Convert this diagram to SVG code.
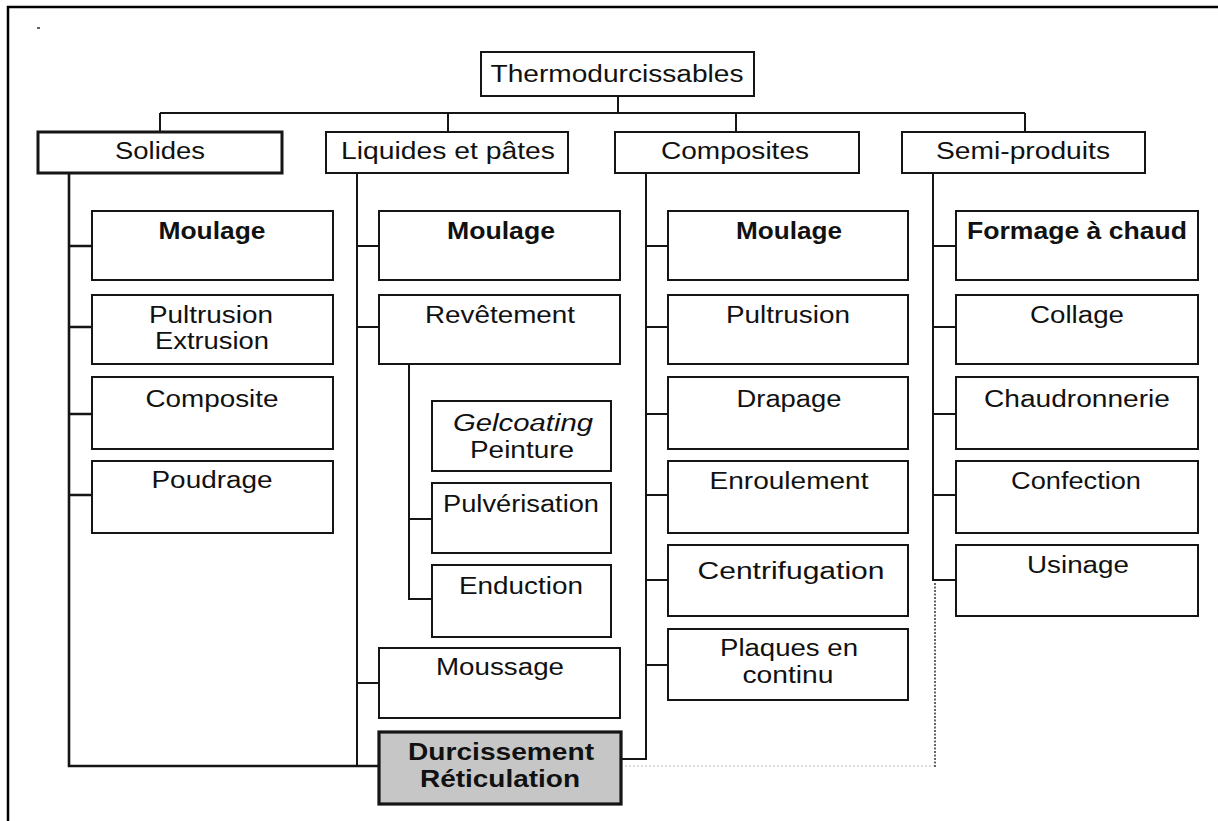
<svg xmlns="http://www.w3.org/2000/svg" width="1218" height="821" viewBox="0 0 1218 821">
<style>
.frame{fill:none;stroke:#000;stroke-width:2.5}
.box{fill:#fff;stroke:#151515;stroke-width:2}
.thick{stroke-width:3}
.grey{fill:#c6c6c6;stroke-width:3.2}
.c{fill:none;stroke:#151515;stroke-width:2}
.dot{fill:none;stroke:#555;stroke-width:1.8;stroke-dasharray:2 1.5}
.dotl{fill:none;stroke:#bbb;stroke-width:1.2;stroke-dasharray:2 2}
.t{font-family:"Liberation Sans",Arial,sans-serif;font-size:23px;text-anchor:middle;fill:#111}
.b{font-weight:bold}
.i{font-style:italic}
</style>
<rect class="frame" x="8" y="7" width="1240" height="840"/>
<rect x="37" y="27" width="3" height="2" fill="#55667a"/>
<g id="connectors">
<path class="c" d="M618 96V113M160 113H1025M160 113V132M448 113V132M736 113V132M1025 113V132"/>
<path class="c" style="stroke-width:2.6" d="M69 173V766H379M69 246H92M69 327H92M69 414H92M69 495H92"/>
<path class="c" d="M357 173V766M357 246H379M357 327H379M357 683H379"/>
<path class="c" d="M409 364V599H432M409 519H432"/>
<path class="c" d="M646 173V759H621M646 246H668M646 327H668M646 414H668M646 495H668M646 580H668M646 665H668"/>
<path class="c" d="M933 173V580H956M933 246H956M933 327H956M933 414H956M933 495H956"/>
<path class="dot" d="M935 583V767"/>
<path class="dotl" d="M625 766H934"/>
</g>
<g id="root"><rect class="box" x="481" y="52" width="273" height="44"/><text class="t" x="617" y="82" textLength="253" lengthAdjust="spacingAndGlyphs">Thermodurcissables</text></g>
<g id="solides"><rect class="box thick" x="38" y="132" width="244" height="41"/><text class="t" x="160" y="159" textLength="90" lengthAdjust="spacingAndGlyphs">Solides</text></g>
<g id="liquides"><rect class="box" x="326" y="132" width="242" height="41"/><text class="t" x="448" y="159" textLength="214" lengthAdjust="spacingAndGlyphs">Liquides et pâtes</text></g>
<g id="composites"><rect class="box" x="615" y="132" width="244" height="41"/><text class="t" x="735" y="159" textLength="148" lengthAdjust="spacingAndGlyphs">Composites</text></g>
<g id="semi"><rect class="box" x="902" y="132" width="243" height="41"/><text class="t" x="1023" y="159" textLength="174" lengthAdjust="spacingAndGlyphs">Semi-produits</text></g>

<g id="s-moulage"><rect class="box" x="92" y="211" width="241" height="69"/><text class="t b" x="212" y="239" textLength="107" lengthAdjust="spacingAndGlyphs">Moulage</text></g>
<g id="s-pultrusion"><rect class="box" x="92" y="295" width="241" height="69"/><text class="t" x="211" y="323" textLength="124" lengthAdjust="spacingAndGlyphs">Pultrusion</text><text class="t" x="212" y="349" textLength="114" lengthAdjust="spacingAndGlyphs">Extrusion</text></g>
<g id="s-composite"><rect class="box" x="92" y="377" width="241" height="72"/><text class="t" x="212" y="407" textLength="133" lengthAdjust="spacingAndGlyphs">Composite</text></g>
<g id="s-poudrage"><rect class="box" x="92" y="461" width="241" height="72"/><text class="t" x="212" y="488" textLength="121" lengthAdjust="spacingAndGlyphs">Poudrage</text></g>

<g id="l-moulage"><rect class="box" x="379" y="211" width="241" height="69"/><text class="t b" x="501" y="239" textLength="108" lengthAdjust="spacingAndGlyphs">Moulage</text></g>
<g id="l-revetement"><rect class="box" x="379" y="295" width="241" height="69"/><text class="t" x="500" y="323" textLength="150" lengthAdjust="spacingAndGlyphs">Revêtement</text></g>
<g id="l-gelcoating"><rect class="box" x="432" y="401" width="179" height="70"/><text class="t i" x="523" y="431" textLength="140" lengthAdjust="spacingAndGlyphs">Gelcoating</text><text class="t" x="522" y="458" textLength="104" lengthAdjust="spacingAndGlyphs">Peinture</text></g>
<g id="l-pulverisation"><rect class="box" x="432" y="483" width="179" height="70"/><text class="t" x="521" y="512" textLength="156" lengthAdjust="spacingAndGlyphs">Pulvérisation</text></g>
<g id="l-enduction"><rect class="box" x="432" y="565" width="179" height="72"/><text class="t" x="521" y="594" textLength="124" lengthAdjust="spacingAndGlyphs">Enduction</text></g>
<g id="l-moussage"><rect class="box" x="379" y="648" width="241" height="70"/><text class="t" x="500" y="675" textLength="128" lengthAdjust="spacingAndGlyphs">Moussage</text></g>
<g id="durcissement"><rect class="box grey" x="379" y="732" width="242" height="72"/><text class="t b" x="501" y="760" textLength="186" lengthAdjust="spacingAndGlyphs">Durcissement</text><text class="t b" x="500" y="787" textLength="160" lengthAdjust="spacingAndGlyphs">Réticulation</text></g>

<g id="c-moulage"><rect class="box" x="668" y="211" width="240" height="69"/><text class="t b" x="789" y="239" textLength="106" lengthAdjust="spacingAndGlyphs">Moulage</text></g>
<g id="c-pultrusion"><rect class="box" x="668" y="295" width="240" height="69"/><text class="t" x="788" y="323" textLength="124" lengthAdjust="spacingAndGlyphs">Pultrusion</text></g>
<g id="c-drapage"><rect class="box" x="668" y="377" width="240" height="72"/><text class="t" x="789" y="407" textLength="105" lengthAdjust="spacingAndGlyphs">Drapage</text></g>
<g id="c-enroulement"><rect class="box" x="668" y="461" width="240" height="72"/><text class="t" x="789" y="489" textLength="159" lengthAdjust="spacingAndGlyphs">Enroulement</text></g>
<g id="c-centrifugation"><rect class="box" x="668" y="545" width="240" height="71"/><text class="t" x="791" y="579" textLength="187" lengthAdjust="spacingAndGlyphs">Centrifugation</text></g>
<g id="c-plaques"><rect class="box" x="668" y="629" width="240" height="71"/><text class="t" x="789" y="656" textLength="138" lengthAdjust="spacingAndGlyphs">Plaques en</text><text class="t" x="788" y="683" textLength="91" lengthAdjust="spacingAndGlyphs">continu</text></g>

<g id="p-formage"><rect class="box" x="956" y="211" width="242" height="69"/><text class="t b" x="1077" y="239" textLength="220" lengthAdjust="spacingAndGlyphs">Formage à chaud</text></g>
<g id="p-collage"><rect class="box" x="956" y="295" width="242" height="69"/><text class="t" x="1077" y="323" textLength="94" lengthAdjust="spacingAndGlyphs">Collage</text></g>
<g id="p-chaudronnerie"><rect class="box" x="956" y="377" width="242" height="72"/><text class="t" x="1077" y="407" textLength="186" lengthAdjust="spacingAndGlyphs">Chaudronnerie</text></g>
<g id="p-confection"><rect class="box" x="956" y="461" width="242" height="72"/><text class="t" x="1076" y="489" textLength="130" lengthAdjust="spacingAndGlyphs">Confection</text></g>
<g id="p-usinage"><rect class="box" x="956" y="545" width="242" height="71"/><text class="t" x="1078" y="573" textLength="102" lengthAdjust="spacingAndGlyphs">Usinage</text></g>
</svg>
